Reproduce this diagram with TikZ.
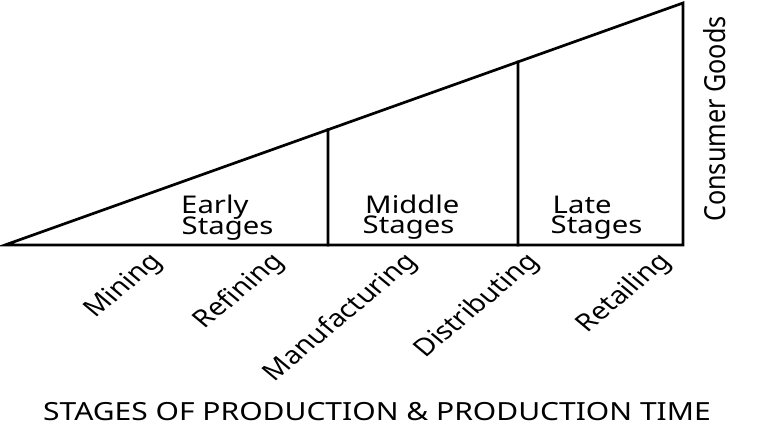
\documentclass[tikz,border=0pt]{standalone}
\usepackage{fontspec}
\setmainfont{Noto Sans}
\usetikzlibrary{calc}
\begin{document}
\begin{tikzpicture}[x=1pt,y=1pt,
  edge/.style={line width=2.7pt, line join=miter, line cap=rect},
  stagetxt/.style={inner sep=0pt, anchor=base west, xscale=1.2, font=\fontsize{24.4}{24.4}\selectfont},
  goodstxt/.style={inner sep=0pt, anchor=base west, xscale=1.15, rotate=90, font=\fontsize{25.2}{25.2}\selectfont},
  acttxt/.style={inner sep=0pt, anchor=base east, xscale=1.2, rotate=45, font=\fontsize{24.2}{24.2}\selectfont},
  titletxt/.style={inner sep=0pt, anchor=base west, xscale=1.2, font=\fontsize{25}{25}\selectfont}]
\useasboundingbox (0,0) rectangle (780,429);
% main shape
\coordinate (A) at (5,184);
\coordinate (B) at (683,184);
\coordinate (C) at (683,426);
\coordinate (D1) at (328,184);
\coordinate (E1) at ($(A)!0.4764!(C)$);
\coordinate (D2) at (518,184);
\coordinate (E2) at ($(A)!0.7566!(C)$);
\draw[edge] (A) -- (B) -- (C) -- cycle;
\draw[edge] (D1) -- (E1);
\draw[edge] (D2) -- (E2);
% stage labels
\node[stagetxt] (early1) at (181,215.7) {Early};
\node[stagetxt] (early2) at (181.5,194) {Stages};
\node[stagetxt] (mid1) at (365,215.7) {Middle};
\node[stagetxt] (mid2) at (362.5,195.7) {Stages};
\node[stagetxt] (late1) at (552.5,215.7) {Late};
\node[stagetxt] (late2) at (550.5,195.7) {Stages};
% consumer goods
\node[goodstxt] (goods) at (725,207) {Consumer Goods};
% activities
\node[acttxt] (mining) at (163,166.4) {Mining};
\node[acttxt] (refining) at (285,166.4) {Refining};
\node[acttxt] (manuf) at (418,166.4) {Manufacturing};
\node[acttxt] (distr) at (540,166.4) {Distributing};
\node[acttxt] (retail) at (672,166.4) {Retailing};
% title
\node[titletxt] (title) at (43,8.3) {STAGES OF PRODUCTION \& PRODUCTION TIME};
\end{tikzpicture}
\end{document}
